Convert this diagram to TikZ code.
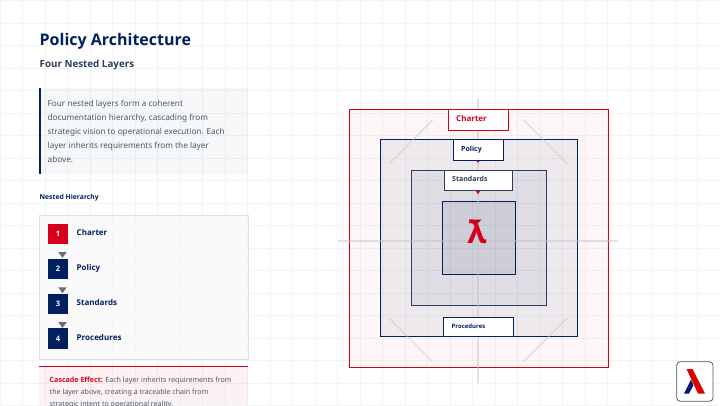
\documentclass[tikz,border=0pt]{standalone}
\usepackage{fontspec}
\setmainfont{Noto Sans}
\newfontfamily\opf{Open Sans}
\newcommand{\bfx}{\opf\bfseries}
\usetikzlibrary{calc}
\definecolor{navy}{HTML}{002060}
\definecolor{slate}{HTML}{2B3F5C}
\definecolor{redc}{HTML}{D6001C}
\definecolor{gridc}{HTML}{F3F4F6}
\definecolor{bodyc}{HTML}{4A5568}
\definecolor{crossc}{HTML}{C6C4CC}
\tikzset{
  layer/.style={draw=#1,line width=0.9pt},
  tagbox/.style={draw=#1,line width=0.9pt,fill=white},
  tagtext/.style={anchor=base west,inner sep=0pt,font=\bfx\fontsize{#1}{#1}\selectfont},
  crossline/.style={draw=crossc,line width=1.4pt,opacity=.5},
  numbox/.style={minimum width=20pt,minimum height=20pt,inner sep=0pt,text=white,font=\bfx\fontsize{7.5}{7.5}\selectfont},
  itemtext/.style={anchor=base west,inner sep=0pt,text=navy,font=\bfx\fontsize{8}{8}\selectfont},
  bodytext/.style={anchor=base west,inner sep=0pt,text=bodyc,font=\fontsize{8.2}{8.2}\selectfont},
  cascadetext/.style={anchor=west,inner sep=0pt,text=bodyc,font=\fontsize{7.1}{7.1}\selectfont}
}
\begin{document}
\begin{tikzpicture}[x=1pt,y=-1pt]
\useasboundingbox (0,0) rectangle (720,405);
\clip (0,0) rectangle (720,405);
\fill[white] (0,0) rectangle (720,405);
% grid
\foreach \i in {0,...,32} \draw[gridc,line width=0.6pt] ({\i*22.5},0) -- ({\i*22.5},405);
\foreach \i in {0,...,18} \draw[gridc,line width=0.6pt] (0,{\i*22.5+0.5}) -- (720,{\i*22.5+0.5});
% heading
\node[anchor=base west,inner sep=0pt,text=navy,font=\bfx\fontsize{16}{16}\selectfont] (title) at (39.5,45) {Policy Architecture};
\node[anchor=base west,inner sep=0pt,text=slate,font=\bfx\fontsize{9.8}{9.8}\selectfont] (subtitle) at (39.5,67) {Four Nested Layers};
% intro panel
\fill[navy,opacity=.035] (39,88) rectangle (248,174);
\fill[navy] (39,88) rectangle (41,174);
\node[bodytext] (b1) at (47.5,106.8) {Four nested layers form a coherent};
\node[bodytext] (b2) at (47.5,120.8) {documentation hierarchy, cascading from};
\node[bodytext] (b3) at (47.5,134.8) {strategic vision to operational execution. Each};
\node[bodytext] (b4) at (47.5,148.8) {layer inherits requirements from the layer};
\node[bodytext] (b5) at (47.5,162.8) {above.};
\node[anchor=west,inner sep=0pt,text=navy,font=\bfx\fontsize{6.8}{6.8}\selectfont] (nh) at (39.5,197.5) {Nested Hierarchy};
% hierarchy panel
\draw[draw=gray!25,fill=gray!6,fill opacity=.6,line width=0.8pt] (39.5,215.5) rectangle (248,359.5);
\node[numbox,fill=redc] (n1) at (58,234) {1};
\node[numbox,fill=navy] (n2) at (58,269) {2};
\node[numbox,fill=navy] (n3) at (58,304) {3};
\node[numbox,fill=navy,minimum height=21pt] (n4) at (58,338.7) {4};
\node[itemtext] (t1) at (76.5,235.5) {Charter};
\node[itemtext] (t2) at (76.5,270.5) {Policy};
\node[itemtext] (t3) at (76.5,305.5) {Standards};
\node[itemtext] (t4) at (76.5,340.5) {Procedures};
\foreach \y in {252,287.3,322}
  \fill[gray!80!navy] (58.2,\y) -- (66.8,\y) -- (62.5,\y+5.8) -- cycle;
% cascade panel
\fill[redc,opacity=.05] (39,366) rectangle (248,405);
\draw[redc,line width=0.9pt] (39,366) -- (248,366);
\node[cascadetext] (c1) at (49.5,380.5) {\textcolor{redc}{\bfx Cascade Effect:} Each layer inherits requirements from};
\node[cascadetext] (c2) at (49.5,392.5) {the layer above, creating a traceable chain from};
\node[cascadetext] (c3) at (49.5,404.5) {strategic intent to operational reality.};
% nested layers
\draw[layer=redc,fill=redc,fill opacity=.035] (349.5,109.5) rectangle (608,367.5);
\draw[layer=navy,fill=navy,fill opacity=.06] (380.5,139.5) rectangle (577.5,336.5);
\draw[layer=slate,fill=navy,fill opacity=.06] (411.5,170.5) rectangle (546.5,305.5);
\draw[layer=navy,fill=navy,fill opacity=.08] (442.5,201.5) rectangle (515.5,274.5);
% cross lines
\coordinate (ct) at (478,98); \coordinate (cb) at (478,383);
\coordinate (cl) at (338,241); \coordinate (cr) at (618,241);
\draw[crossline] (ct) -- (cb);
\draw[crossline] (cl) -- (cr);
\draw[crossline] (389,164) -- (432.5,120);
\draw[crossline] (567.5,164) -- (523.5,120);
\draw[crossline] (389,318) -- (432.5,361.5);
\draw[crossline] (567.5,318) -- (523.5,361.5);
% tags
\draw[tagbox=redc] (448.5,109.5) rectangle (508.5,130.5);
\node[tagtext=8,text=redc] (tc) at (456,121.2) {Charter};
\draw[tagbox=navy] (453.5,139.5) rectangle (503.5,160.5);
\node[tagtext=7,text=navy] (tp) at (461,151.2) {Policy};
\draw[tagbox=slate] (444.5,170.5) rectangle (512.5,190.5);
\node[tagtext=7,text=slate] (ts) at (452,181.5) {Standards};
\draw[tagbox=navy] (443.5,317.5) rectangle (513.5,336.5);
\node[tagtext=6,text=navy] (tq) at (451.5,328.3) {Procedures};
\fill[redc] (476.5,161) -- (479.5,161) -- (478,162.8) -- cycle;
\fill[redc] (476,191) -- (480,191) -- (478,194.5) -- cycle;
% lambda
\node[inner sep=0pt,text=redc,font=\bfx\fontsize{31}{31}\selectfont] (lam) at (477,232) {λ};
\fill[redc!85!black] (474,219.5) -- (481.5,219.5) -- (478,223) -- cycle;
% logo
\draw[draw=gray!70!black,fill=white,rounded corners=3.5pt,line width=0.8pt] (676.7,361.7) rectangle (713,401.3);
\fill[red!85!black] (686.5,369) -- (692.5,369) -- (705,393.5) -- (698,393.5) -- cycle;
\fill[navy!80!blue] (684,393.5) -- (691,379.5) -- (693.5,385.5) -- (689,393.5) -- cycle;
\end{tikzpicture}
\end{document}
